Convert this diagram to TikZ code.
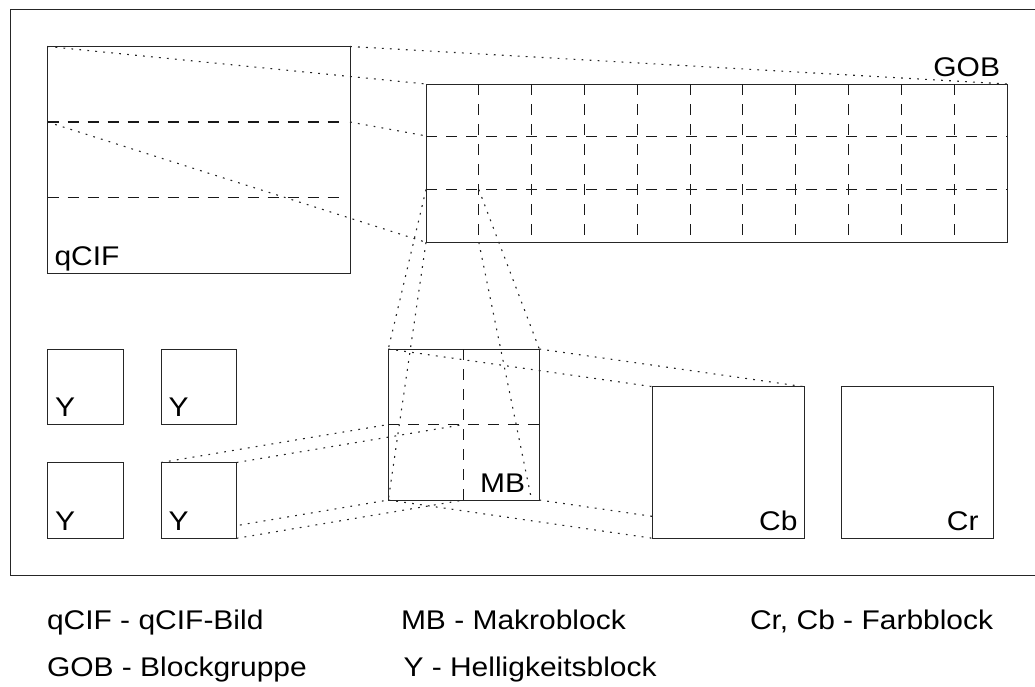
\documentclass[tikz,border=0pt]{standalone}
\usepackage{fontspec}
\setmainfont[FakeStretch=1.11]{Liberation Sans}
\usetikzlibrary{calc}
\pgfdeclarelayer{bg}
\pgfdeclarelayer{fg}
\pgfsetlayers{bg,main,fg}
\begin{document}
\begin{tikzpicture}[x=1pt,y=-1pt,
  blk/.style={draw=black!85, line width=1pt, inner sep=0pt, outer sep=0pt, anchor=north west},
  opaque/.style={fill=white},
  dashline/.style={draw=black!90, line width=1.1pt, dash pattern=on 11pt off 9pt},
  dotline/.style={draw=black!85, line width=1.1pt, dash pattern=on 1.8pt off 6.2pt},
  lab/.style={inner sep=0pt, outer sep=0pt, font=\fontsize{27}{31}\selectfont}]
\useasboundingbox (0,0) rectangle (1035,686);
\clip (0,0) rectangle (1035,686);
\draw[line width=1pt, draw=black!85] (10,9) rectangle (1045,575.5);

% boxes
\node[blk, minimum width=302.5pt, minimum height=226.5pt] (qcif) at (47.5,46.5) {};
\node[blk, opaque, minimum width=581pt, minimum height=158.3pt] (gob) at (426,84) {};
\node[blk, minimum width=151pt, minimum height=151pt] (mb) at (388.3,349) {};
\node[blk, opaque, minimum width=75.6pt, minimum height=75.7pt] (y1) at (47.7,349) {};
\node[blk, opaque, minimum width=75.6pt, minimum height=75.7pt] (y2) at (161,349) {};
\node[blk, opaque, minimum width=75.6pt, minimum height=75.8pt] (y3) at (47.7,462.5) {};
\node[blk, opaque, minimum width=75.6pt, minimum height=75.8pt] (y4) at (161,462.5) {};
\node[blk, opaque, minimum width=151.3pt, minimum height=151.6pt] (cb) at (652.7,386.7) {};
\node[blk, opaque, minimum width=151.6pt, minimum height=151.6pt] (cr) at (841.7,386.7) {};

% helper coordinates
\coordinate (q1l) at ($(qcif.north west)!1/3!(qcif.south west)$);
\coordinate (q1r) at ($(qcif.north east)!1/3!(qcif.south east)$);
\coordinate (q2l) at ($(qcif.north west)!2/3!(qcif.south west)$);
\coordinate (g31) at ($(gob.north west)!2/3!(gob.south west)$);
\coordinate (g32) at ($(g31)!1/11!(gob.east |- g31)$);
\coordinate (g33) at ($(gob.south west)!1/11!(gob.south east)$);
\coordinate (mbend) at (531,497);

% inner dashed lines
\draw[dashline] (q1l) -- ($(q1l)+(292.5,0)$);
\draw[dashline] (q2l) -- ($(q2l)+(292.5,0)$);
\foreach \k in {1,2} {
  \draw[dashline] ($(gob.north west)!\k/3!(gob.south west)$) -- ($(gob.north east)!\k/3!(gob.south east)$);
}
\foreach \k in {1,...,10} {
  \draw[dashline] ($(gob.north west)!\k/11!(gob.north east)$) -- ($(gob.south west)!\k/11!(gob.south east)$);
}
\draw[dashline] (mb.north) -- (mb.south);
\draw[dashline] (mb.west) -- (mb.east);

% connectors behind the boxes
\begin{pgfonlayer}{bg}
\draw[dotline] (qcif.north west) -- (gob.north west);
\draw[dotline] (qcif.north east) -- (gob.north east);
\draw[dotline] (q1r) -- (gob.south east);
\draw[dotline] (q1l) -- (gob.south west);
\draw[dotline] (mb.north west) -- (cb.north west);
\draw[dotline] (mb.north east) -- (cb.north east);
\draw[dotline] (mb.south west) -- (cb.south west);
\draw[dotline] (mb.south east) -- (cb.south east);
\draw[dotline] (y4.north west) -- (mb.west);
\draw[dotline] (y4.north east) -- (mb.center);
\draw[dotline] (y4.south west) -- (mb.south west);
\draw[dotline] (y4.south east) -- (mb.south);
\end{pgfonlayer}

% connectors in front
\begin{pgfonlayer}{fg}
\draw[dotline] (g31) -- (mb.north west);
\draw[dotline] (g32) -- (mb.north east);
\draw[dotline] (gob.south west) -- (mb.south west);
\draw[dotline] (g33) -- (mbend);
\end{pgfonlayer}

% labels
\node[lab, anchor=base west] (lq) at (54.5,265.5) {qCIF};
\node[lab, anchor=base east] (lg) at (1000,76) {GOB};
\node[lab, anchor=base west] (ly1) at (55,416) {Y};
\node[lab, anchor=base west] (ly2) at (168.5,416) {Y};
\node[lab, anchor=base west] (ly3) at (55,530) {Y};
\node[lab, anchor=base west] (ly4) at (168.5,530) {Y};
\node[lab, anchor=base east] (lmb) at (525,492.5) {MB};
\node[lab, anchor=base east] (lcb) at (797.5,530) {Cb};
\node[lab, anchor=base east] (lcr) at (978.5,530) {Cr};

% legend
\node[lab, anchor=base west] (k1) at (47,629) {qCIF - qCIF-Bild};
\node[lab, anchor=base west] (k2) at (47,676) {GOB - Blockgruppe};
\node[lab, anchor=base west] (k3) at (401,629) {MB - Makroblock};
\node[lab, anchor=base west] (k4) at (403.5,676) {Y - Helligkeitsblock};
\node[lab, anchor=base west] (k5) at (750,629) {Cr, Cb - Farbblock};
\end{tikzpicture}
\end{document}
